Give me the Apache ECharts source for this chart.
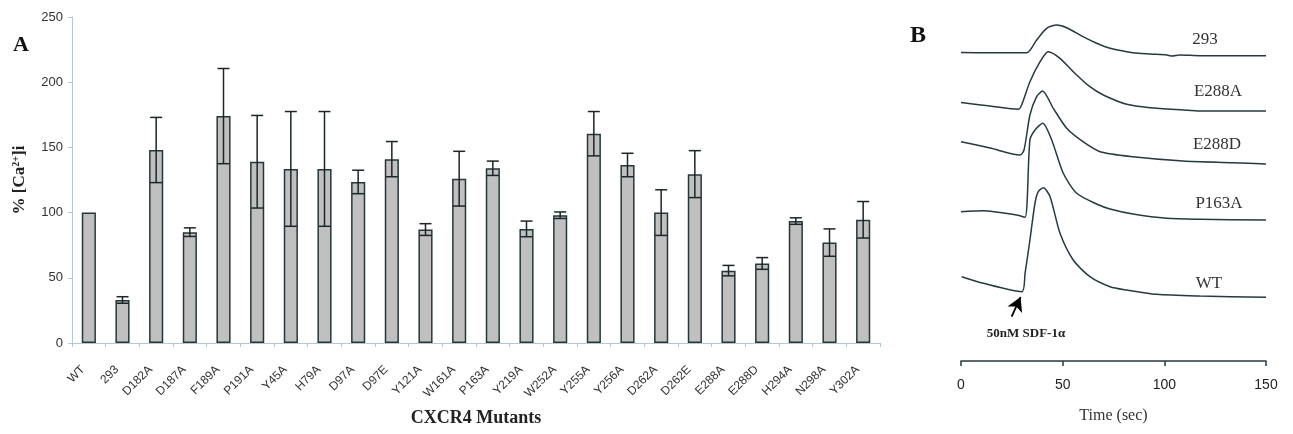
<!DOCTYPE html>
<html>
<head>
<meta charset="utf-8">
<script src="https://cdn.jsdelivr.net/npm/echarts@6/dist/echarts.min.js"></script>
<style>html,body{margin:0;padding:0;background:#fff;}#c{width:1293px;height:434px;}</style>
</head>
<body>
<div id="c"></div>
<script>
// ---- Panel A data ----
const categories = ['WT','293','D182A','D187A','F189A','P191A','Y45A','H79A','D97A','D97E','Y121A','W161A','P163A','Y219A','W252A','Y255A','Y256A','D262A','D262E','E288A','E288D','H294A','N298A','Y302A'];
const meanValues = [100,33,148,85,174,139,133.5,133.5,123.5,141,87,126,134,87.5,98,160.5,136.5,100,129.5,55.5,61,93.5,77,94.5];
const errorValues = [0,2.5,25,3.3,36.5,35.5,44,44,9,13.5,4.5,21,5.5,6,2.5,17,9,17.5,18,4,4.5,2.5,10.5,14];

// ---- Panel B traces: [time (sec), relative signal] ----
const trace293 = [[0,308.5],[14.3,308.3],[32.3,308.3],[37.2,321],[42.1,332.7],[47.1,336],[52,333.3],[60,324.3],[66.7,317.7],[73.3,312.7],[84.6,308.3],[93,307],[101.2,306],[103.8,305],[107.6,306],[117.5,305.3],[150,305.3]];
const traceE288A = [[0,258.5],[14.3,255],[28.2,251.7],[29.8,256],[33.9,279.3],[38.9,299.3],[42.9,309.3],[48.7,302.7],[55.2,289.3],[63.4,274.3],[70,266],[81.5,256.7],[93,253.3],[109.3,251],[117.5,250],[150,250]];
const traceE288D = [[0,219.3],[14.3,213],[29,206],[31,211],[33.9,246],[37.2,264.3],[40.1,270],[45.4,252.7],[52,232.7],[60,219.3],[68.4,209.3],[84.6,204.3],[109.2,200],[133.8,198.3],[150,197]];
const traceP163A = [[0,149.3],[10.8,150.3],[27.4,146],[31.5,143.7],[33.9,221],[36.4,231],[40.2,237.7],[44.6,221],[50.3,187.7],[56.9,167.7],[66.7,157],[73.3,152],[84.6,147],[101.2,142.7],[117.5,141.7],[150,141]];
const traceWT = [[0.3,84.3],[11,77.7],[29.9,69.3],[31.5,87.7],[33.9,121],[36.4,158],[38,169.3],[40.5,173.3],[43.8,164.3],[48.7,127.7],[55.2,101],[63.4,84.3],[73.3,74.3],[81.5,71],[96.2,66.7],[117.5,65],[150,63.7]];
const timeTicks = [0, 150, 50];   // min, max, interval
const arrowFrom = [24.9, 44.3];
const arrowTo = [29.3, 64];

const chart = echarts.init(document.getElementById('c'), null, {renderer:'canvas'});

const errData = [];
categories.forEach((c,i)=>{ if(errorValues[i]>0) errData.push([i, meanValues[i]-errorValues[i], meanValues[i]+errorValues[i]]); });

const traceStyle = {color:'#263a40', width:1.5};
function traceSeries(name, data, extra){
  return Object.assign({
    name: name, type:'line', xAxisIndex:1, yAxisIndex:1, data:data,
    showSymbol:false, smooth:0.25, lineStyle:traceStyle, itemStyle:{color:'#263a40'},
    silent:true, animation:false
  }, extra||{});
}

const serif = '"Liberation Serif", "Times New Roman", serif';
const sans = '"Liberation Sans", Arial, sans-serif';

const option = {
  backgroundColor:'#fff',
  animation:false,
  grid:[
    {left:72, top:17, width:808, height:326, outerBoundsMode:'none', containLabel:false},
    {left:961, top:21, width:305, height:340, outerBoundsMode:'none', containLabel:false}
  ],
  xAxis:[
    {type:'category', gridIndex:0, data:categories,
     axisLine:{lineStyle:{color:'#b4c8d0', width:1}},
     axisTick:{show:true, length:4, alignWithLabel:false, lineStyle:{color:'#b4c8d0'}},
     axisLabel:{rotate:45, fontSize:12, color:'#333', fontFamily:sans, margin:19, padding:[0,8,0,0], interval:0},
     name:'CXCR4 Mutants', nameLocation:'middle', nameGap:66,
     nameTextStyle:{fontFamily:serif, fontWeight:'bold', fontSize:18, color:'#222'}},
    {type:'value', gridIndex:1, min:timeTicks[0], max:timeTicks[1], interval:timeTicks[2],
     axisLine:{lineStyle:{color:'#263a40', width:1.5}},
     axisTick:{show:true, length:5, inside:false, lineStyle:{color:'#263a40', width:1.5}},
     splitLine:{show:false},
     axisLabel:{fontSize:14, color:'#222', fontFamily:sans, margin:17},
     name:'Time (sec)', nameLocation:'middle', nameGap:47,
     nameTextStyle:{fontFamily:serif, fontSize:16, color:'#333'}}
  ],
  yAxis:[
    {type:'value', gridIndex:0, min:0, max:250, interval:50,
     axisLine:{show:true, lineStyle:{color:'#b4c8d0', width:1}},
     axisTick:{show:true, length:4, lineStyle:{color:'#b4c8d0'}},
     splitLine:{show:false},
     axisLabel:{fontSize:13, color:'#333', fontFamily:sans, margin:9},
     name:'{a|% [Ca}{s|2+}{a|]i}', nameLocation:'middle', nameGap:44, nameRotate:90,
     nameTextStyle:{fontFamily:serif, fontWeight:'bold', fontSize:17, color:'#222',
       rich:{a:{fontFamily:serif, fontWeight:'bold', fontSize:17, color:'#222'},
             s:{fontFamily:serif, fontWeight:'bold', fontSize:10, color:'#222', verticalAlign:'top', padding:[0,0,6,0]}}}},
    {type:'value', gridIndex:1, min:0, max:340, show:false, splitLine:{show:false}}
  ],
  series:[
    {type:'bar', xAxisIndex:0, yAxisIndex:0, data:meanValues, barWidth:'42%',
     itemStyle:{color:'#c0c0c0', borderColor:'#27363a', borderWidth:1.5}, silent:true, z:2},
    {type:'custom', xAxisIndex:0, yAxisIndex:0, data:errData, z:3, silent:true,
     encode:{x:0, y:[1,2]},
     renderItem:function(params, api){
       const i = api.value(0);
       const lo = api.coord([i, api.value(1)]);
       const hi = api.coord([i, api.value(2)]);
       const w = 6;
       const st = {stroke:'#1c2629', lineWidth:1.5};
       return {type:'group', children:[
         {type:'line', shape:{x1:hi[0], y1:hi[1], x2:lo[0], y2:lo[1]}, style:st},
         {type:'line', shape:{x1:hi[0]-w, y1:hi[1], x2:hi[0]+w, y2:hi[1]}, style:st},
         {type:'line', shape:{x1:lo[0]-w, y1:lo[1], x2:lo[0]+w, y2:lo[1]}, style:st}
       ]};
     }},
    traceSeries('293', trace293),
    traceSeries('E288A', traceE288A),
    traceSeries('E288D', traceE288D),
    traceSeries('P163A', traceP163A),
    traceSeries('WT', traceWT, {
      markLine:{silent:true, symbol:['none','arrow'], symbolSize:[12,14],
        lineStyle:{color:'#000', width:1.8, type:'solid'}, label:{show:false},
        data:[[{coord:arrowFrom},{coord:arrowTo}]]}
    })
  ],
  graphic:[
    {type:'text', left:13, top:34, style:{text:'A', font:'bold 22px '+serif, fill:'#111'}},
    {type:'text', left:910, top:24, style:{text:'B', font:'bold 24px '+serif, fill:'#111'}},
    {type:'text', x:1205, y:40, style:{text:'293', font:'17px '+serif, fill:'#333', align:'center', verticalAlign:'middle'}},
    {type:'text', x:1218, y:92, style:{text:'E288A', font:'17px '+serif, fill:'#333', align:'center', verticalAlign:'middle'}},
    {type:'text', x:1217, y:145, style:{text:'E288D', font:'17px '+serif, fill:'#333', align:'center', verticalAlign:'middle'}},
    {type:'text', x:1219, y:204, style:{text:'P163A', font:'17px '+serif, fill:'#333', align:'center', verticalAlign:'middle'}},
    {type:'text', x:1209, y:284, style:{text:'WT', font:'17px '+serif, fill:'#333', align:'center', verticalAlign:'middle'}},
    {type:'text', x:1026, y:334, style:{text:'50nM SDF-1\u03b1', font:'bold 13px '+serif, fill:'#222', align:'center', verticalAlign:'middle'}}
  ]
};
chart.setOption(option);
</script>
</body>
</html>
